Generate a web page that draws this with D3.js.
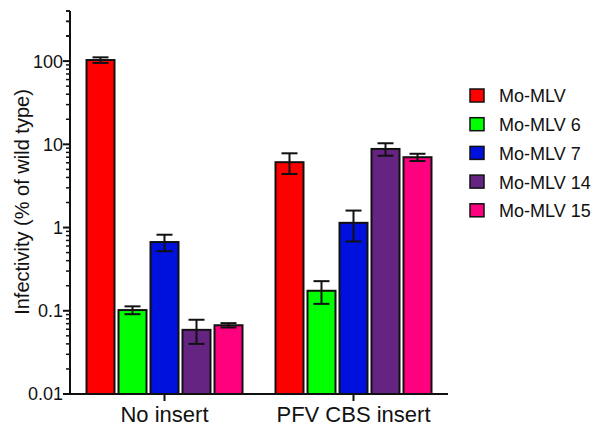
<html>
    <title>Infectivity</title>
    <style>
        body{
            margin: 0;
            background: white;
        }
        svg{
            display: block;
            font-family: "Liberation Sans", Arial, sans-serif;
        }
    </style>
<body>
        <script src="https://d3js.org/d3.v7.min.js"></script>
        <script>
            // Data
            const groups = ["No insert", "PFV CBS insert"]
            const series = ["Mo-MLV", "Mo-MLV 6", "Mo-MLV 7", "Mo-MLV 14", "Mo-MLV 15"]
            const colors = ["#ff0000", "#00ff00", "#0010dd", "#662482", "#ff007f"]
            // means per series, one value per group
            const means = [
                [103, 6.1],
                [0.102, 0.174],
                [0.67, 1.14],
                [0.059, 8.8],
                [0.067, 7.0]
            ]
            const errors = [
                [8, 1.7],
                [0.011, 0.053],
                [0.15, 0.46],
                [0.019, 1.5],
                [0.004, 0.7]
            ]
            const majorTicks = [0.01, 0.1, 1, 10, 100]
            const majorLabels = ["0.01", "0.1", "1", "10", "100"]

            const width = 600
            const height = 439
            const plotLeft = 70, plotRight = 448, plotTop = 11, plotBottom = 394

            const svg = d3.select("body")
                        .append("svg")
                        .attr("width", width)
                        .attr("height", height)

            // Scales
            const x0 = d3.scalePoint()
                        .domain(groups)
                        .range([plotLeft, plotRight])
                        .padding(0.5)

            const x1 = d3.scaleBand()
                        .domain(series)
                        .range([-80, 80])
                        .paddingInner(0.125)
                        .paddingOuter(0.0625)

            const y = d3.scaleLog()
                        .domain([0.01, 400])
                        .range([plotBottom, plotTop])

            // Bars
            series.forEach((s, i) => {
                groups.forEach((g, j) => {
                    const v = means[i][j]
                    const e = errors[i][j]
                    const bx = x0(g) + x1(s)
                    svg.append("rect")
                        .attr("x", bx)
                        .attr("y", y(v))
                        .attr("width", x1.bandwidth())
                        .attr("height", plotBottom - y(v))
                        .attr("fill", colors[i])
                        .attr("stroke", "#111")
                        .attr("stroke-width", 2)

                    // error bar
                    const cx = bx + x1.bandwidth() / 2
                    const eb = svg.append("g")
                        .attr("stroke", "#111")
                        .attr("stroke-width", 2)
                    eb.append("line")
                        .attr("x1", cx).attr("x2", cx)
                        .attr("y1", y(v + e)).attr("y2", y(v - e))
                    eb.append("line")
                        .attr("x1", cx - 8).attr("x2", cx + 8)
                        .attr("y1", y(v + e)).attr("y2", y(v + e))
                    eb.append("line")
                        .attr("x1", cx - 8).attr("x2", cx + 8)
                        .attr("y1", y(v - e)).attr("y2", y(v - e))
                })
            })

            // Y axis
            const yAxis = svg.append("g").attr("stroke", "#111")
            yAxis.append("line")
                .attr("x1", plotLeft).attr("x2", plotLeft)
                .attr("y1", plotTop).attr("y2", plotBottom)
                .attr("stroke-width", 2)

            const minor = y.ticks().filter(t => !majorTicks.some(m => Math.abs(m - t) / m < 1e-6))
            minor.push(200, 300, 400)
            yAxis.selectAll(".minor")
                .data(minor)
                .enter()
                .append("line")
                .attr("x1", plotLeft - 4).attr("x2", plotLeft)
                .attr("y1", d => y(d)).attr("y2", d => y(d))
                .attr("stroke-width", 1.5)

            yAxis.selectAll(".major")
                .data(majorTicks)
                .enter()
                .append("line")
                .attr("x1", plotLeft - 7).attr("x2", plotLeft)
                .attr("y1", d => y(d)).attr("y2", d => y(d))
                .attr("stroke-width", 2)

            svg.selectAll(".ylabel")
                .data(majorTicks)
                .enter()
                .append("text")
                .attr("x", plotLeft - 7)
                .attr("y", d => y(d))
                .attr("dy", "0.36em")
                .attr("text-anchor", "end")
                .attr("font-size", 18)
                .attr("fill", "#111")
                .text((d, i) => majorLabels[i])

            svg.append("text")
                .attr("transform", "translate(29,202) rotate(-90)")
                .attr("text-anchor", "middle")
                .attr("font-size", 20)
                .attr("fill", "#111")
                .text("Infectivity (% of wild type)")

            // X axis
            svg.append("line")
                .attr("x1", plotLeft - 7).attr("x2", plotRight)
                .attr("y1", plotBottom).attr("y2", plotBottom)
                .attr("stroke", "#111")
                .attr("stroke-width", 2)

            groups.forEach(g => {
                svg.append("line")
                    .attr("x1", x0(g)).attr("x2", x0(g))
                    .attr("y1", plotBottom).attr("y2", plotBottom + 7)
                    .attr("stroke", "#111")
                    .attr("stroke-width", 2)
                svg.append("text")
                    .attr("x", x0(g))
                    .attr("y", 422)
                    .attr("text-anchor", "middle")
                    .attr("font-size", 22)
                    .attr("fill", "#111")
                    .text(g)
            })

            // Legend
            const legend = svg.append("g").attr("transform", "translate(470,89)")
            series.forEach((s, i) => {
                const row = legend.append("g").attr("transform", "translate(0," + (i * 28.7) + ")")
                row.append("rect")
                    .attr("width", 14)
                    .attr("height", 13)
                    .attr("fill", colors[i])
                    .attr("stroke", "#111")
                    .attr("stroke-width", 1.5)
                row.append("text")
                    .attr("x", 29)
                    .attr("y", 7)
                    .attr("dy", "0.36em")
                    .attr("font-size", 18)
                    .attr("fill", "#111")
                    .text(s)
            })
        </script>
  </body>
</html>
